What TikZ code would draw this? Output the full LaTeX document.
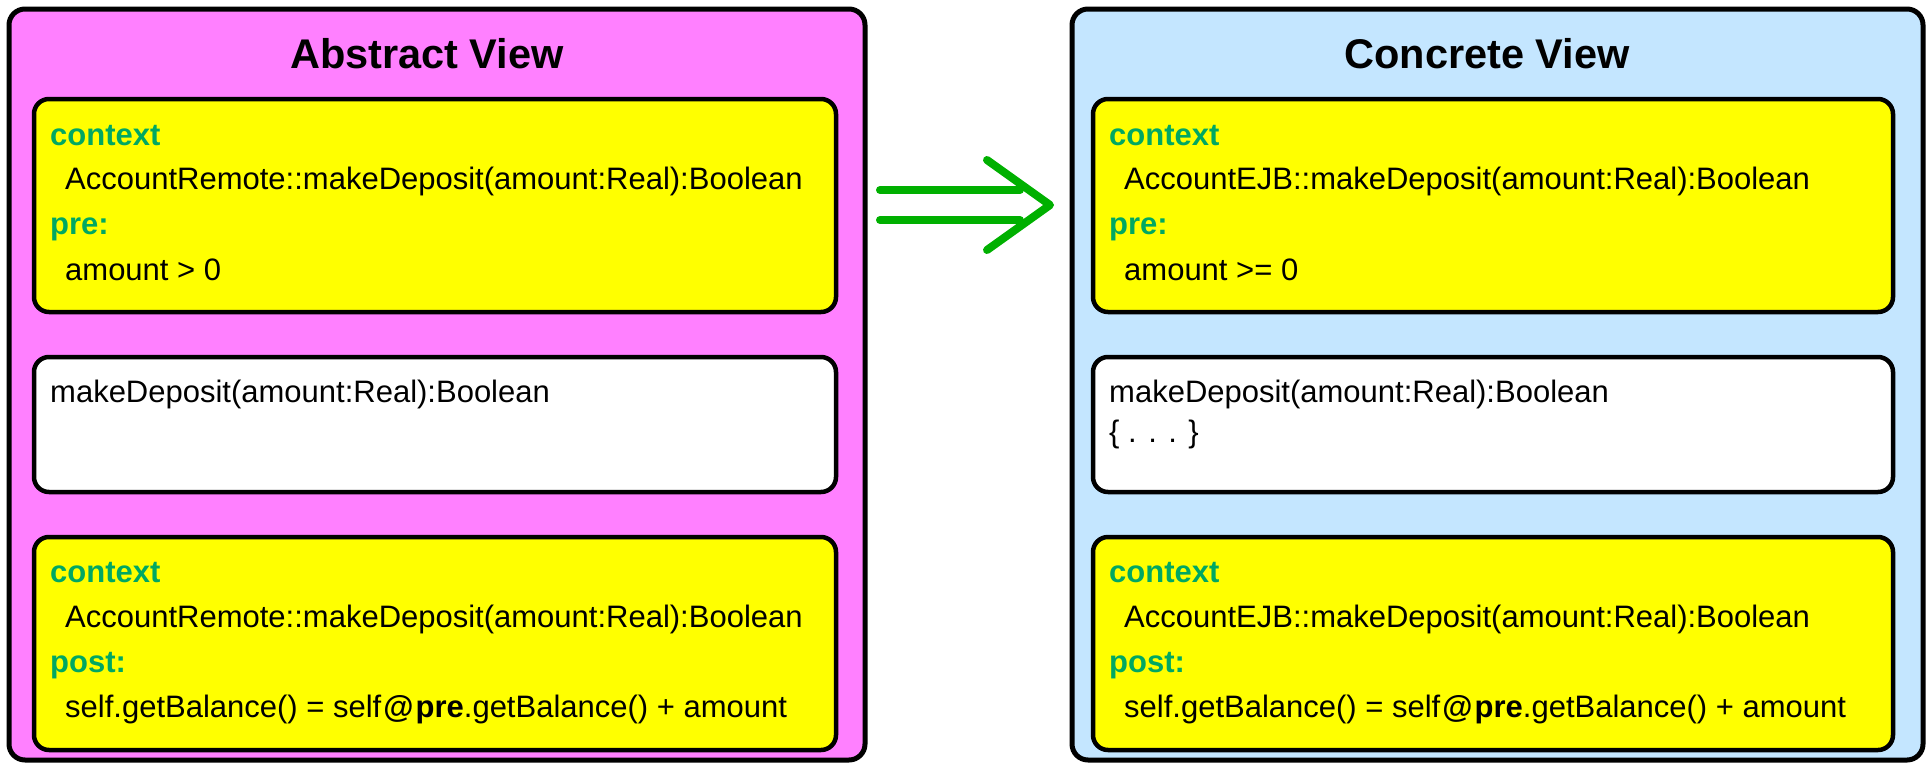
\documentclass[tikz,border=0pt]{standalone}
\usepackage{fontspec}
\setmainfont{Liberation Sans}
\definecolor{pinkc}{HTML}{FF80FF}
\definecolor{bluec}{HTML}{C4E6FF}
\definecolor{yellc}{HTML}{FFFF00}
\definecolor{labc}{HTML}{00A862}
\definecolor{arrc}{HTML}{00B000}
\tikzset{
  panel/.style={draw=black, line width=5pt, rounded corners=16pt, inner sep=0pt, outer sep=0pt, anchor=north west},
  card/.style={draw=black, line width=4.5pt, rounded corners=15pt, inner sep=0pt, outer sep=0pt, anchor=north west},
  txt/.style={anchor=base west, inner sep=0pt, font=\fontsize{31pt}{37pt}\selectfont},
  lab/.style={anchor=base west, inner sep=0pt, text=labc, font=\fontsize{31pt}{37pt}\selectfont\bfseries},
  ttl/.style={anchor=base, inner sep=0pt, font=\fontsize{41.5pt}{47pt}\selectfont\bfseries},
  arr/.style={draw=arrc, line width=8pt, line cap=round, line join=round}
}
\newcommand{\atpre}{self\hspace{2pt}\textbf{@}\hspace{2pt}\textbf{pre}}
\begin{document}
\begin{tikzpicture}[x=1pt,y=-1pt]
\useasboundingbox (0,0) rectangle (1927,763);
% panels
\node[panel, fill=pinkc, minimum width=856pt, minimum height=751pt] (abs) at (9,9) {};
\node[panel, fill=bluec, minimum width=851pt, minimum height=751pt] (con) at (1072,9) {};
\node[ttl] (abst) at (427,68) {Abstract View};
\node[ttl] (cont) at (1487,68) {Concrete View};
% left cards
\node[card, fill=yellc, minimum width=802pt, minimum height=213pt] (lpre) at (34,99) {};
\node[card, fill=white, minimum width=802pt, minimum height=135pt] (lop) at (34,357) {};
\node[card, fill=yellc, minimum width=802pt, minimum height=213pt] (lpost) at (34,537) {};
% right cards
\node[card, fill=yellc, minimum width=800pt, minimum height=213pt] (rpre) at (1093,99) {};
\node[card, fill=white, minimum width=800pt, minimum height=135pt] (rop) at (1093,357) {};
\node[card, fill=yellc, minimum width=800pt, minimum height=213pt] (rpost) at (1093,537) {};
% left texts
\node[lab] (l1) at (50,145) {context};
\node[txt] (l2) at (65,189) {AccountRemote::makeDeposit(amount:Real):Boolean};
\node[lab] (l3) at (50,234) {pre:};
\node[txt] (l4) at (65,280) {amount > 0};
\node[txt] (l5) at (50,402) {makeDeposit(amount:Real):Boolean};
\node[lab] (l6) at (50,582) {context};
\node[txt] (l7) at (65,627) {AccountRemote::makeDeposit(amount:Real):Boolean};
\node[lab] (l8) at (50,672) {post:};
\node[txt] (l9) at (65,717) {self.getBalance() = \atpre.getBalance() + amount};
% right texts
\node[lab] (r1) at (1109,145) {context};
\node[txt] (r2) at (1124,189) {AccountEJB::makeDeposit(amount:Real):Boolean};
\node[lab] (r3) at (1109,234) {pre:};
\node[txt] (r4) at (1124,280) {amount >= 0};
\node[txt] (r5) at (1109,402) {makeDeposit(amount:Real):Boolean};
\node[txt] (r5b) at (1109,442) {\{ . . . \}};
\node[lab] (r6) at (1109,582) {context};
\node[txt] (r7) at (1124,627) {AccountEJB::makeDeposit(amount:Real):Boolean};
\node[lab] (r8) at (1109,672) {post:};
\node[txt] (r9) at (1124,717) {self.getBalance() = \atpre.getBalance() + amount};
% refinement arrow
\coordinate (s1) at (880,190);
\coordinate (e1) at (1020,190);
\coordinate (s2) at (880,220);
\coordinate (e2) at (1020,220);
\coordinate (h1) at (987,160);
\coordinate (tip) at (1050,205);
\coordinate (h2) at (987,250);
\draw[arr] (s1) -- (e1);
\draw[arr] (s2) -- (e2);
\draw[arr] (h1) -- (tip) -- (h2);
\end{tikzpicture}
\end{document}
